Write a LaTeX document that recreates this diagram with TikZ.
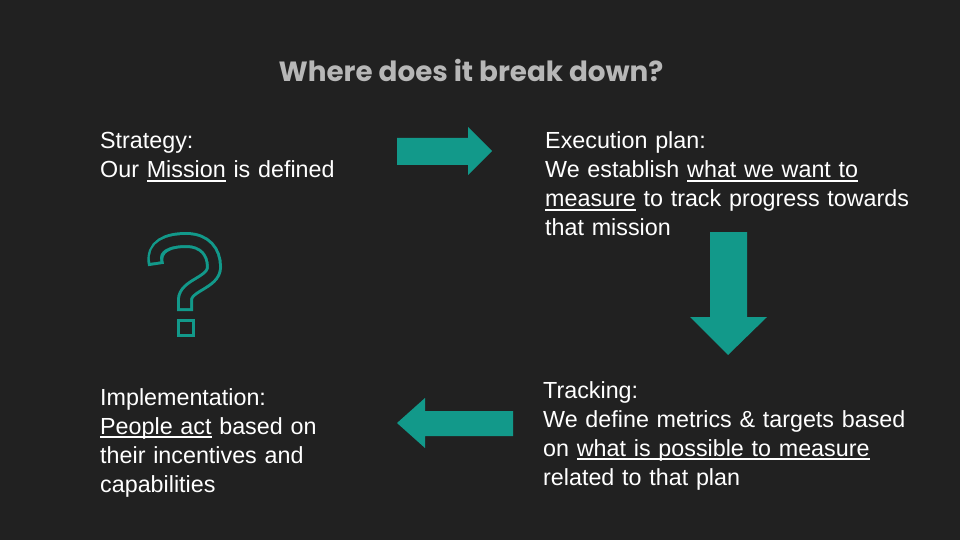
\documentclass[tikz,border=0pt]{standalone}
\usepackage{fontspec}
\setmainfont{Liberation Sans}
\newfontfamily\titlefont{Poppins}
\definecolor{bgc}{HTML}{212121}
\definecolor{tealc}{HTML}{12998A}
\definecolor{titlec}{HTML}{B7B7B7}
\newcommand{\myul}[1]{\leavevmode\setbox0\hbox{#1}\rlap{\rule[-3.6pt]{\wd0}{1.7pt}}\box0\relax}
\tikzset{
  body/.style={anchor=base west, inner sep=0pt, text=white, text width=420pt, align=left,
    font=\fontsize{23.3}{29}\selectfont},
  blockarrow/.style={fill=tealc, draw=none},
}
\begin{document}
\begin{tikzpicture}[x=1pt,y=-1pt]
\fill[bgc] (0,0) rectangle (960,540);
\useasboundingbox (0,0) rectangle (960,540);
\node[font=\titlefont\bfseries\fontsize{27.8}{32}\selectfont, text=titlec, anchor=base, inner sep=0pt] (title) at (471,82) {Where does it break down?};
\node[body] (strategy) at (100,149) {Strategy:\\Our \myul{Mission} is defined};
\node[body] (execution) at (545,149) {Execution plan:\\We establish \myul{what we want to}\\\myul{measure} to track progress towards\\that mission};
\node[body] (tracking) at (543,398) {Tracking:\\We define metrics \& targets based\\on \myul{what is possible to measure}\\related to that plan};
\node[body] (implementation) at (100,405) {Implementation:\\\myul{People act} based on\\their incentives and\\capabilities};
% block arrows
\fill[blockarrow] (397,138) -- (468,138) -- (468,127) -- (492,151) -- (468,175) -- (468,165) -- (397,165) -- cycle;
\fill[blockarrow] (710,232) -- (747,232) -- (747,317) -- (767,317) -- (728,355) -- (690,317) -- (710,317) -- cycle;
\fill[blockarrow] (513,411) -- (425,411) -- (425,398) -- (397,423) -- (425,448) -- (425,436) -- (513,436) -- cycle;
% question mark outline
\draw[tealc, line width=16pt] (156,265) .. controls (152,246) and (168,240) .. (186,240)
  .. controls (205,240) and (214,252) .. (214,267)
  .. controls (214,283) and (185,285) .. (185,300) -- (185,311);
\draw[bgc, line width=10pt, shorten <=3pt, shorten >=3pt] (156,265) .. controls (152,246) and (168,240) .. (186,240)
  .. controls (205,240) and (214,252) .. (214,267)
  .. controls (214,283) and (185,285) .. (185,300) -- (185,311);
\draw[tealc, line width=3pt] (178.5,320.5) rectangle (193,335);
\end{tikzpicture}
\end{document}
